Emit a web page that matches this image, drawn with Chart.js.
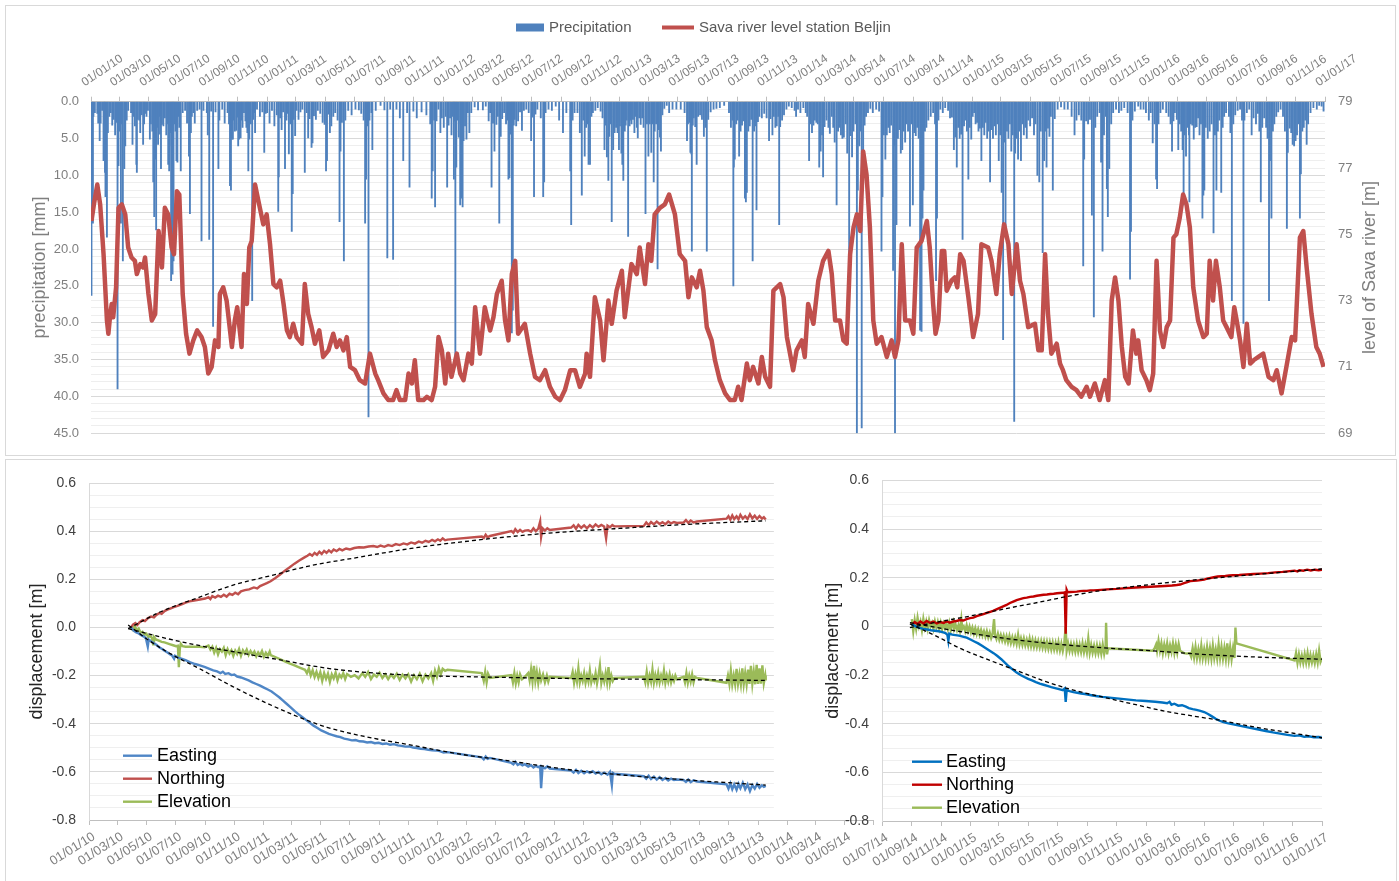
<!DOCTYPE html>
<html>
<head>
<meta charset="utf-8">
<title>Precipitation, Sava river level and displacement</title>
<script src="https://cdn.jsdelivr.net/npm/chart.js@4.4.1/dist/chart.umd.min.js"></script>
<style>
  html, body { margin: 0; padding: 0; background: #fff; }
  body { width: 1399px; height: 881px; position: relative; overflow: hidden; }
  .frame { position: absolute; border: 1px solid #d9d9d9; box-sizing: border-box; }
  canvas { position: absolute; }
</style>
</head>
<body>
<div class="frame" style="left:5px;top:5px;width:1391px;height:451px"></div>
<div class="frame" style="left:5px;top:459px;width:1392px;height:430px"></div>
<canvas id="rainChart" width="1388" height="448" style="left:6px;top:6px"></canvas>
<canvas id="dispA" width="880" height="421" style="left:6px;top:459px"></canvas>
<canvas id="dispB" width="590" height="421" style="left:800px;top:459px"></canvas>
<script>
// days are counted from 01/01/2010

// daily precipitation [mm], [day, mm]
const rain2010 = [[1,26.3],[2,3],[4,16.5],[5,2],[8,1.5],[13,1.6],[15,2.9],[18,5.3],[20,2.9],[23,1.2],[26,8.0],[27,3],[29,9.6],[30,12.9],[33,18.4],[35,4.2],[38,2],[41,1.5],[44,3.2],[47,2.4],[50,4.5],[52,2.8],[55,39.0],[57,8.7],[59,4.0],[62,16.5],[64,3],[66,21.6],[69,9.1],[71,6.0],[74,2.5],[77,1.2],[83,1.5],[86,5.8],[88,2],[91,3.3],[94,8.5],[95,9.6],[97,2.4],[100,2.5],[102,4.2],[105,1.8],[108,5.8],[110,3],[112,1.6],[115,2],[118,1.2],[122,5.1],[124,3],[127,4],[129,10.9],[131,15.6],[133,7.8],[135,17.4],[137,3.5],[139,5.8],[141,2],[143,4.4],[145,9.1],[147,3.1],[150,3.3],[153,2.2],[156,4.5],[158,3],[160,8.5],[162,9.4],[164,4.2],[166,24.3],[167,6],[169,23.4],[170,9.4],[171,21.6],[173,3],[175,4],[177,8.0],[179,8.2],[181,2],[183,3.5],[186,9.4],[190,1.5],[195,1.2],[199,2.9],[203,7.4],[205,15.2],[207,4.2],[209,2.0],[212,1.5],[215,2.9],[220,1.2],[225,1.0],[229,18.9],[233,1.2],[240,1.5],[242,4.5],[245,18.7],[249,1.3],[253,30.5],[258,1.4],[264,9.1],[266,2.5],[272,1.0],[277,2.9],[283,1.5],[286,3.0],[288,11.4],[290,12.0],[292,5.1],[294,5.1],[296,2.5],[298,4],[301,3.9],[303,2.1],[305,6.0],[307,5.1],[310,4.9],[312,2.5],[314,3.5],[317,1.5],[320,2.6],[322,3.5],[324,4.2],[326,9.4],[328,5.1],[331,3],[334,27.0],[336,2.4],[338,1.5],[340,4.2],[344,1.0],[350,2.0],[355,1.4],[359,6.9],[362,1.6]];
const rain2011 = [[365,1.5],[370,2.9],[375,1.2],[380,3.3],[385,1.8],[388,14.9],[389,10.2],[392,2.2],[395,3.8],[398,1.4],[402,9.1],[405,2.5],[408,1.6],[410,7.1],[413,3.0],[416,17.6],[418,12.5],[420,2.4],[423,4.6],[426,1.2],[430,2.4],[434,1.4],[438,1.0],[443,9.6],[447,1.5],[450,4.9],[453,2.3],[457,6.2],[459,5.6],[462,1.9],[466,2.4],[470,1.2],[475,1.6],[480,2.8],[484,3.1],[487,9.4],[489,8.0],[492,1.7],[495,4.2],[498,3.3],[502,2.0],[506,1.5],[511,2.5],[515,16.3],[517,6.7],[520,2.8],[524,21.6],[527,2.5],[533,1.2],[540,1.8],[548,1.0],[555,1.1],[560,1.6],[565,2.5],[568,16.5],[570,10.5],[573,3.3],[575,42.8],[577,2.5],[581,1.5],[583,6.5],[590,1.2],[600,0.5],[608,1.1],[614,21.2],[620,1.0],[626,21.4],[633,1.0],[640,2.2],[647,8.0],[655,1.5],[660,11.6],[668,1.3],[675,2.2],[685,1.4],[695,1.8],[703,3.0],[706,13.1],[708,9.4],[711,2.5],[713,14.3],[716,2.6],[720,1.0],[724,4.2],[727,2.2]];
const rain2012 = [[731,3.5],[735,2.0],[738,11.6],[741,3.2],[744,2.2],[747,4.5],[750,2.0],[752,10.5],[753,2.6],[755,35.0],[757,8.9],[759,2.5],[762,4.8],[765,14.0],[766,3.0],[768,13.1],[770,14.3],[772,5.3],[775,3.3],[778,5.1],[781,1.5],[784,4.2],[788,1.5],[795,0.7],[802,1.1],[812,1.1],[818,0.6],[824,2.6],[827,1.5],[830,11.6],[833,2.9],[836,6.7],[840,3.1],[843,2.0],[846,16.5],[849,4.7],[852,2.3],[856,1.5],[860,3.0],[863,2.5],[865,10.5],[867,10.3],[870,4.4],[872,31.4],[874,28.3],[876,3.2],[878,2.4],[881,3.3],[885,2.6],[889,1.4],[893,3.9],[897,1.2],[902,1.0],[907,1.5],[912,5.3],[915,2.1],[918,12.9],[921,1.7],[925,1.0],[932,2.2],[937,12.9],[939,10.9],[942,1.5],[948,1.0],[955,1.2],[963,0.6],[970,2.5],[978,4.2],[985,1.5],[993,9.4],[995,16.7],[998,2.5],[1002,1.5],[1008,1.5],[1013,4.2],[1017,12.7],[1020,2.5],[1023,7.4],[1026,3.5],[1028,3.0],[1031,8.5],[1034,8.5],[1037,2.0],[1040,1.5],[1045,1.2],[1050,0.8],[1056,1.3],[1060,2.2],[1064,6.5],[1066,3.2],[1069,7.5],[1072,10.7],[1074,4.7],[1077,3.0],[1079,16.3],[1082,6.5],[1085,4.2],[1088,3.5],[1091,4.2],[1094,6.5]];
const rain2013 = [[1096,3.3],[1099,7.0],[1101,8.5],[1103,10.7],[1106,4.0],[1108,3.2],[1110,2.5],[1113,18.3],[1116,3.3],[1118,2.5],[1120,3.0],[1123,2.4],[1126,4.2],[1128,2.0],[1131,3.5],[1133,4.9],[1136,2.2],[1139,3.1],[1142,2.2],[1145,3.5],[1149,15.2],[1152,3.0],[1155,7.4],[1158,3.0],[1161,6.9],[1163,3.0],[1166,10.9],[1168,4.0],[1171,3.0],[1174,22.7],[1176,3.8],[1179,4.8],[1181,6.7],[1184,1.8],[1188,0.9],[1193,0.5],[1198,1.5],[1205,1.0],[1213,1.0],[1222,1.0],[1230,1.5],[1235,5.3],[1237,3.0],[1240,2.8],[1242,6.9],[1244,7.1],[1245,20.3],[1247,3.2],[1249,2.2],[1252,3.4],[1255,8.5],[1258,2.0],[1262,1.8],[1266,2.4],[1270,4.7],[1273,3.5],[1276,20.3],[1279,2.4],[1284,1.4],[1290,1.0],[1296,0.9],[1303,0.8],[1312,0.5],[1322,1.5],[1326,3.5],[1329,2.5],[1331,25.0],[1332,8.9],[1334,7.8],[1337,3.0],[1340,2.5],[1343,7.4],[1346,4.0],[1349,3.2],[1352,2.6],[1355,13.1],[1357,13.6],[1359,12.3],[1362,4.0],[1365,3.3],[1368,2.4],[1371,21.6],[1374,4.0],[1376,3.3],[1379,14.7],[1382,2.7],[1385,2.0],[1390,2.2],[1395,1.6],[1400,2.2],[1405,5.3],[1408,2.3],[1412,4.5],[1415,2.0],[1418,3.5],[1421,3.3],[1424,2.0],[1426,16.7],[1428,3.4],[1432,2.5],[1436,1.8],[1441,1.0],[1446,0.6],[1452,0.8],[1458,1.2]];
const rain2014 = [[1461,2.0],[1465,1.0],[1470,1.5],[1476,0.8],[1481,1.5],[1484,2.0],[1488,8.0],[1491,3.0],[1494,4.2],[1497,3.2],[1500,2.5],[1503,2.8],[1506,3.0],[1509,8.9],[1512,6.7],[1515,4.5],[1517,10.2],[1520,3.4],[1524,2.5],[1528,3.5],[1531,4.3],[1535,2.0],[1538,3.5],[1541,5.5],[1545,14.0],[1548,4.0],[1551,3.5],[1554,4.5],[1557,5.0],[1560,4.8],[1564,3.0],[1567,7.0],[1571,20.7],[1574,4.6],[1577,7.5],[1580,4.0],[1584,3.0],[1587,45],[1589,12.0],[1592,6.0],[1595,4.0],[1597,44.3],[1600,7.1],[1603,3.2],[1606,2.0],[1610,1.5],[1615,0.9],[1620,1.5],[1627,1.0],[1633,1.3],[1638,20.3],[1640,12.9],[1643,4.5],[1646,7.8],[1649,4.5],[1652,3.5],[1655,4.2],[1658,3.2],[1662,22.9],[1664,6.0],[1666,45],[1669,16.7],[1672,5.0],[1675,3.8],[1678,7.0],[1681,6.5],[1684,4.0],[1687,5.5],[1690,3.0],[1693,4.0],[1697,16.9],[1700,3.0],[1703,14.0],[1706,4.2],[1709,4.6],[1712,3.5],[1715,5.0],[1718,31.0],[1721,31.2],[1723,15.8],[1725,12.0],[1728,4.0],[1731,3.5],[1735,2.5],[1740,2.0],[1745,1.5],[1749,3.0],[1751,24.3],[1753,15.8],[1756,2.5],[1760,1.0],[1765,1.5],[1770,0.8],[1776,1.2],[1780,2.2],[1784,2.1],[1788,6.5],[1791,4.8],[1794,8.9],[1797,3.5],[1800,5.0],[1803,4.4],[1806,18.7],[1809,3.3],[1812,2.5],[1815,4.0],[1818,10.5],[1821,3.5],[1824,5.1]];
const rain2015 = [[1827,2.0],[1830,1.5],[1833,3.0],[1836,2.8],[1839,4.0],[1842,3.6],[1845,8.0],[1848,3.5],[1851,4.5],[1854,2.8],[1857,5.0],[1860,4.0],[1863,10.9],[1866,3.8],[1869,5.0],[1872,3.3],[1875,4.5],[1878,3.0],[1881,8.0],[1884,4.5],[1887,12.3],[1890,32.3],[1892,5.5],[1895,17.4],[1898,4.0],[1901,5.0],[1904,3.0],[1907,6.7],[1910,4.5],[1913,43.4],[1915,7.0],[1918,5.0],[1921,7.8],[1924,4.0],[1927,8.0],[1930,3.0],[1933,4.5],[1936,3.5],[1939,5.0],[1942,2.5],[1946,3.3],[1950,2.2],[1954,4.5],[1957,3.0],[1961,10.0],[1965,10.9],[1968,4.0],[1972,20.5],[1975,8.0],[1978,4.0],[1980,8.9],[1983,3.6],[1986,4.7],[1989,2.0],[1993,12.0],[1997,2.3],[2003,1.0],[2010,0.7],[2017,1.0],[2024,1.0],[2032,2.0],[2038,4.5],[2042,2.5],[2047,1.8],[2052,2.5],[2056,22.3],[2058,7.8],[2062,2.6],[2066,3.0],[2070,2.4],[2074,15.4],[2078,29.2],[2081,3.5],[2085,2.0],[2090,1.5],[2093,8.2],[2096,20.3],[2099,4.5],[2103,2.0],[2105,11.8],[2107,15.6],[2110,9.1],[2114,3.0],[2118,1.5],[2124,1.0],[2130,1.5],[2135,1.2],[2141,0.8],[2148,1.5],[2153,24.1],[2155,17.6],[2158,2.5],[2163,1.3],[2170,0.6],[2175,1.0],[2181,1.0],[2186,1.5]];
const rain2016 = [[2192,2.5],[2196,1.5],[2200,5.6],[2204,3.0],[2207,10.5],[2209,11.8],[2212,3.0],[2216,1.5],[2221,1.0],[2228,1.5],[2233,2.0],[2237,3.0],[2240,6.7],[2243,2.6],[2246,1.5],[2250,2.4],[2253,6.5],[2256,3.0],[2259,4.0],[2262,6.5],[2264,14.0],[2266,4.5],[2269,7.4],[2272,3.5],[2275,4.5],[2276,13.6],[2279,3.0],[2282,3.2],[2285,5.1],[2288,3.5],[2291,3.4],[2294,2.2],[2297,4.5],[2300,3.0],[2303,15.8],[2305,12.7],[2307,12.0],[2310,3.5],[2314,5.0],[2318,4.0],[2322,3.0],[2326,17.8],[2329,4.5],[2332,12.0],[2335,4.0],[2338,2.5],[2342,12.3],[2345,3.5],[2348,2.0],[2352,1.5],[2358,2.0],[2361,4.2],[2364,27.0],[2367,3.0],[2371,1.8],[2376,1.2],[2381,1.0],[2385,2.5],[2388,30.1],[2390,2.5],[2395,1.5],[2400,1.0],[2405,4.5],[2409,2.2],[2414,3.0],[2418,1.6],[2421,4.0],[2424,13.6],[2427,3.5],[2431,2.2],[2435,3.5],[2438,5.0],[2441,27.0],[2443,8.0],[2446,15.8],[2449,4.0],[2452,3.0],[2456,2.0],[2460,1.4],[2465,1.0],[2470,2.0],[2474,4.0],[2478,17.2],[2480,6.9],[2484,3.6],[2487,4.2],[2490,5.8],[2493,6.0],[2496,5.3],[2499,4.5],[2502,3.0],[2505,15.8],[2507,9.8],[2510,4.0],[2513,3.5],[2516,2.5],[2519,5.8],[2522,3.0],[2527,1.5],[2533,0.8],[2540,1.0],[2545,0.5],[2550,0.6],[2554,1.3]];

// Sava river level at Beljin [m], [day, level]
const riverLevel = [[1,75.4],[6,75.9],[13,76.5],[19,75.9],[26,74.4],[33,72.4],[36,72.0],[40,72.6],[43,72.9],[46,72.5],[52,73.4],[57,75.8],[64,75.9],[71,75.6],[77,74.6],[84,74.3],[91,74.2],[95,73.8],[102,74.1],[108,74.0],[112,74.3],[119,73.2],[126,72.4],[133,72.6],[140,75.1],[147,74.0],[153,75.8],[160,75.6],[167,74.6],[172,74.4],[178,76.3],[183,76.2],[190,73.2],[197,72.0],[204,71.4],[212,71.8],[220,72.1],[229,71.9],[236,71.6],[243,70.8],[250,71.0],[257,71.8],[264,71.6],[267,73.2],[274,73.4],[281,73.0],[292,71.6],[298,72.4],[303,72.8],[312,71.6],[317,73.8],[323,72.9],[328,74.6],[333,74.8],[340,76.5],[347,76.0],[357,75.3],[364,75.6],[371,74.7],[378,73.5],[385,73.4],[392,73.6],[399,72.9],[406,72.1],[412,71.9],[419,72.3],[426,71.9],[437,71.7],[443,73.5],[450,72.6],[457,72.2],[464,71.7],[473,72.1],[481,71.3],[492,71.5],[502,72.0],[509,71.6],[516,71.8],[523,71.5],[530,71.9],[537,71.0],[547,70.9],[557,70.6],[568,70.5],[578,71.4],[589,70.8],[595,70.6],[606,70.2],[616,70.0],[626,70.0],[633,70.3],[640,70.0],[651,70.0],[658,70.8],[665,70.5],[671,71.2],[678,70.0],[689,70.0],[696,70.1],[706,70.0],[713,70.4],[720,71.9],[727,71.5],[734,70.5],[740,71.4],[747,70.7],[758,71.4],[765,70.8],[772,70.6],[782,71.4],[789,71.1],[796,72.8],[806,71.4],[816,72.8],[827,72.1],[834,72.5],[841,73.2],[851,73.6],[858,72.4],[865,71.8],[872,73.8],[879,74.2],[885,72.0],[899,72.3],[910,71.4],[920,70.7],[930,70.6],[941,70.9],[951,70.4],[962,70.1],[972,70.0],[982,70.3],[993,70.9],[1003,70.9],[1013,70.4],[1024,70.8],[1027,71.4],[1034,70.7],[1044,73.1],[1055,72.4],[1062,71.2],[1072,73.0],[1079,72.3],[1089,73.3],[1100,73.9],[1106,72.5],[1113,73.3],[1120,74.1],[1131,73.8],[1137,74.6],[1148,73.5],[1155,74.7],[1161,74.2],[1168,75.6],[1179,75.8],[1189,75.9],[1198,76.2],[1210,75.6],[1220,74.4],[1231,74.2],[1238,73.1],[1245,73.7],[1255,73.4],[1262,73.9],[1269,73.3],[1276,72.2],[1286,71.8],[1293,71.2],[1303,70.6],[1314,70.2],[1324,70.0],[1334,70.0],[1341,70.4],[1348,70.0],[1359,71.1],[1365,70.6],[1372,71.0],[1383,70.5],[1390,71.3],[1397,70.7],[1407,70.4],[1414,73.3],[1428,73.5],[1435,73.1],[1442,71.9],[1455,70.9],[1462,71.5],[1473,71.8],[1479,71.3],[1486,72.9],[1497,72.3],[1507,73.6],[1517,74.2],[1528,74.5],[1535,73.8],[1542,72.4],[1552,72.4],[1559,71.8],[1566,71.7],[1573,74.4],[1580,75.2],[1587,75.6],[1594,75.1],[1600,77.5],[1607,76.8],[1614,75.2],[1621,72.4],[1628,71.7],[1638,71.9],[1649,71.3],[1659,71.8],[1666,71.3],[1673,71.8],[1680,74.7],[1687,72.4],[1697,72.4],[1704,72.0],[1711,74.6],[1721,74.8],[1732,75.4],[1738,74.6],[1745,72.9],[1750,72.0],[1756,72.4],[1763,74.5],[1768,74.5],[1773,73.3],[1783,73.6],[1790,73.7],[1795,73.4],[1801,74.4],[1808,74.2],[1818,73.1],[1828,71.9],[1838,72.6],[1845,74.7],[1859,74.6],[1866,74.2],[1876,73.2],[1883,74.4],[1892,75.3],[1901,74.7],[1908,73.2],[1918,74.7],[1925,73.6],[1932,73.2],[1942,72.2],[1956,72.3],[1963,71.5],[1970,71.5],[1977,74.4],[1983,72.6],[1990,71.4],[2001,71.7],[2008,71.1],[2014,70.9],[2021,70.6],[2032,70.4],[2042,70.3],[2052,70.1],[2063,70.4],[2070,70.1],[2080,70.5],[2090,70.0],[2101,70.6],[2108,70.0],[2115,73.0],[2122,73.7],[2129,73.0],[2136,71.6],[2143,70.7],[2150,70.5],[2159,72.1],[2166,71.4],[2170,71.8],[2177,70.9],[2187,70.6],[2194,70.3],[2201,70.8],[2208,74.2],[2215,72.1],[2222,71.6],[2229,72.2],[2236,72.4],[2243,74.9],[2249,75.0],[2256,75.5],[2263,76.2],[2270,75.9],[2277,75.2],[2284,73.4],[2294,72.4],[2305,71.9],[2312,72.0],[2318,74.2],[2325,73.0],[2331,74.2],[2339,73.4],[2346,72.4],[2353,72.2],[2363,71.9],[2369,72.8],[2374,72.4],[2381,71.8],[2388,71.0],[2395,72.3],[2402,71.1],[2409,71.2],[2419,71.3],[2429,71.4],[2440,70.7],[2450,70.6],[2457,70.9],[2467,70.2],[2477,71.0],[2488,71.9],[2495,71.8],[2505,74.9],[2512,75.1],[2519,74.0],[2529,72.6],[2539,71.6],[2546,71.4],[2554,71.0]];

// GNSS displacement 2010-2013 [m], [day, value]
const northA = [[88,0.0],[92,0.012],[97,0.018],[101,0.01],[106,0.022],[112,0.03],[117,0.026],[123,0.038],[130,0.045],[136,0.042],[141,0.052],[147,0.06],[152,0.056],[158,0.068],[164,0.074],[170,0.078],[176,0.083],[182,0.087],[188,0.092],[195,0.097],[202,0.103],[210,0.108],[220,0.112],[232,0.116],[243,0.12],[250,0.126],[254,0.118],[258,0.13],[264,0.124],[270,0.132],[276,0.127],[282,0.136],[288,0.128],[294,0.14],[300,0.135],[306,0.144],[312,0.138],[318,0.15],[326,0.155],[335,0.158],[345,0.166],[352,0.162],[358,0.172],[365,0.178],[372,0.184],[380,0.192],[390,0.205],[400,0.22],[410,0.236],[420,0.25],[430,0.265],[440,0.278],[450,0.29],[457,0.298],[462,0.305],[467,0.298],[472,0.31],[477,0.302],[482,0.314],[487,0.305],[492,0.318],[497,0.31],[502,0.32],[507,0.312],[512,0.324],[518,0.317],[524,0.326],[530,0.32],[538,0.328],[546,0.324],[555,0.33],[565,0.333],[575,0.332],[585,0.336],[595,0.338],[603,0.334],[610,0.34],[618,0.335],[626,0.342],[634,0.338],[642,0.346],[650,0.342],[658,0.349],[666,0.345],[674,0.353],[682,0.348],[690,0.357],[697,0.352],[704,0.36],[711,0.355],[718,0.364],[724,0.358],[730,0.366],[735,0.36],[740,0.37],[745,0.362],[750,0.365],[822,0.378],[826,0.372],[830,0.385],[834,0.374],[839,0.38],[884,0.4],[888,0.393],[892,0.408],[897,0.396],[902,0.405],[907,0.397],[912,0.402],[919,0.404],[925,0.398],[930,0.412],[935,0.4],[940,0.41],[944,0.44],[946,0.376],[949,0.412],[954,0.402],[959,0.412],[964,0.405],[1009,0.415],[1014,0.424],[1019,0.41],[1024,0.426],[1030,0.414],[1036,0.424],[1042,0.412],[1048,0.425],[1054,0.415],[1060,0.428],[1066,0.418],[1072,0.426],[1078,0.419],[1082,0.37],[1085,0.423],[1090,0.416],[1095,0.425],[1099,0.42],[1161,0.422],[1166,0.436],[1171,0.425],[1176,0.438],[1182,0.428],[1188,0.44],[1194,0.43],[1200,0.437],[1206,0.429],[1212,0.44],[1218,0.432],[1224,0.438],[1230,0.434],[1244,0.436],[1249,0.446],[1254,0.434],[1259,0.444],[1265,0.436],[1272,0.44],[1334,0.452],[1338,0.462],[1342,0.448],[1346,0.465],[1350,0.45],[1355,0.462],[1359,0.449],[1363,0.468],[1368,0.452],[1373,0.462],[1378,0.45],[1383,0.47],[1388,0.453],[1393,0.464],[1398,0.451],[1403,0.463],[1408,0.452],[1412,0.458],[1416,0.448]];
const eastA = [[88,0.0],[93,-0.012],[98,-0.02],[104,-0.025],[110,-0.033],[115,-0.038],[119,-0.045],[123,-0.08],[125,-0.05],[130,-0.058],[136,-0.066],[141,-0.072],[147,-0.082],[153,-0.09],[159,-0.098],[165,-0.105],[170,-0.112],[174,-0.117],[178,-0.13],[180,-0.118],[186,-0.125],[193,-0.13],[202,-0.136],[212,-0.145],[222,-0.152],[232,-0.158],[243,-0.165],[252,-0.172],[260,-0.178],[268,-0.183],[275,-0.19],[280,-0.184],[285,-0.193],[292,-0.19],[298,-0.198],[304,-0.196],[310,-0.204],[318,-0.208],[326,-0.214],[334,-0.22],[342,-0.228],[350,-0.235],[358,-0.242],[366,-0.25],[374,-0.258],[382,-0.266],[390,-0.278],[398,-0.29],[406,-0.304],[414,-0.318],[422,-0.332],[430,-0.347],[438,-0.36],[446,-0.372],[454,-0.384],[462,-0.396],[470,-0.408],[478,-0.418],[486,-0.428],[494,-0.435],[502,-0.442],[510,-0.447],[518,-0.452],[526,-0.456],[534,-0.462],[542,-0.465],[550,-0.469],[558,-0.468],[566,-0.473],[574,-0.474],[582,-0.478],[590,-0.476],[598,-0.481],[606,-0.479],[614,-0.484],[622,-0.482],[630,-0.487],[638,-0.485],[646,-0.49],[654,-0.492],[662,-0.495],[670,-0.494],[678,-0.499],[686,-0.501],[694,-0.504],[702,-0.505],[710,-0.508],[718,-0.51],[726,-0.511],[734,-0.514],[742,-0.52],[750,-0.518],[822,-0.54],[826,-0.548],[830,-0.536],[834,-0.546],[839,-0.542],[884,-0.563],[888,-0.569],[892,-0.558],[897,-0.571],[902,-0.566],[907,-0.573],[912,-0.568],[919,-0.578],[925,-0.572],[930,-0.582],[935,-0.575],[940,-0.58],[944,-0.576],[946,-0.668],[949,-0.58],[954,-0.585],[959,-0.577],[964,-0.586],[1009,-0.595],[1014,-0.603],[1019,-0.592],[1024,-0.605],[1030,-0.596],[1036,-0.606],[1042,-0.598],[1048,-0.604],[1054,-0.597],[1060,-0.607],[1066,-0.6],[1072,-0.61],[1078,-0.603],[1085,-0.612],[1090,-0.6],[1094,-0.655],[1096,-0.604],[1099,-0.608],[1161,-0.618],[1166,-0.628],[1171,-0.616],[1176,-0.63],[1182,-0.62],[1188,-0.632],[1194,-0.622],[1200,-0.634],[1206,-0.626],[1212,-0.636],[1218,-0.628],[1224,-0.634],[1230,-0.632],[1244,-0.634],[1249,-0.642],[1254,-0.632],[1259,-0.643],[1265,-0.635],[1272,-0.64],[1334,-0.652],[1338,-0.67],[1342,-0.648],[1346,-0.672],[1350,-0.652],[1355,-0.675],[1359,-0.65],[1363,-0.668],[1368,-0.645],[1373,-0.672],[1378,-0.652],[1383,-0.68],[1388,-0.655],[1393,-0.67],[1398,-0.65],[1403,-0.666],[1408,-0.656],[1412,-0.662],[1416,-0.658]];
const elevA = [[88,0.0],[92,-0.01],[96,0.008],[100,-0.015],[104,-0.005],[108,-0.022],[112,-0.018],[116,-0.03],[120,-0.026],[124,-0.04],[128,-0.035],[132,-0.045],[134,-0.07],[136,-0.04],[140,-0.05],[146,-0.055],[152,-0.06],[158,-0.062],[164,-0.066],[170,-0.07],[176,-0.074],[182,-0.078],[186,-0.076],[188,-0.165],[190,-0.09],[192,-0.068],[196,-0.078],[202,-0.08],[212,-0.08],[222,-0.08],[232,-0.081],[242,-0.082],[250,-0.075],[254,-0.092],[258,-0.08],[262,-0.105],[266,-0.085],[270,-0.112],[274,-0.09],[278,-0.1],[282,-0.085],[286,-0.115],[290,-0.09],[294,-0.108],[298,-0.095],[302,-0.118],[306,-0.096],[310,-0.11],[314,-0.09],[318,-0.118],[322,-0.095],[326,-0.108],[330,-0.092],[334,-0.114],[338,-0.098],[342,-0.112],[346,-0.1],[350,-0.12],[354,-0.104],[358,-0.116],[362,-0.098],[366,-0.122],[370,-0.105],[374,-0.118],[378,-0.1],[380,-0.115],[392,-0.125],[405,-0.137],[418,-0.148],[430,-0.158],[442,-0.168],[452,-0.176],[456,-0.19],[460,-0.17],[464,-0.2],[468,-0.178],[472,-0.206],[476,-0.184],[480,-0.21],[484,-0.186],[488,-0.222],[492,-0.19],[496,-0.214],[500,-0.192],[504,-0.226],[508,-0.195],[512,-0.212],[516,-0.188],[520,-0.22],[524,-0.196],[528,-0.208],[532,-0.19],[536,-0.215],[540,-0.194],[548,-0.205],[556,-0.198],[564,-0.212],[572,-0.19],[578,-0.205],[584,-0.185],[590,-0.215],[596,-0.196],[602,-0.205],[608,-0.188],[614,-0.21],[620,-0.195],[626,-0.215],[632,-0.196],[638,-0.21],[644,-0.192],[650,-0.218],[656,-0.196],[662,-0.212],[668,-0.195],[674,-0.225],[680,-0.198],[686,-0.215],[692,-0.192],[698,-0.224],[704,-0.196],[710,-0.212],[716,-0.19],[720,-0.222],[724,-0.18],[728,-0.205],[732,-0.17],[736,-0.195],[740,-0.172],[745,-0.18],[750,-0.176],[822,-0.19],[826,-0.222],[829,-0.185],[832,-0.228],[835,-0.192],[839,-0.21],[884,-0.198],[887,-0.228],[890,-0.19],[893,-0.232],[896,-0.2],[899,-0.228],[902,-0.195],[906,-0.215],[912,-0.205],[919,-0.19],[922,-0.22],[925,-0.175],[928,-0.225],[931,-0.16],[934,-0.222],[937,-0.185],[940,-0.23],[943,-0.19],[946,-0.22],[950,-0.195],[954,-0.228],[958,-0.2],[961,-0.225],[964,-0.205],[1009,-0.21],[1012,-0.185],[1015,-0.23],[1018,-0.195],[1021,-0.225],[1024,-0.17],[1027,-0.228],[1030,-0.2],[1033,-0.222],[1036,-0.19],[1039,-0.23],[1042,-0.2],[1045,-0.225],[1048,-0.18],[1051,-0.228],[1054,-0.205],[1057,-0.222],[1060,-0.19],[1063,-0.232],[1066,-0.2],[1069,-0.158],[1072,-0.23],[1075,-0.2],[1078,-0.225],[1081,-0.19],[1084,-0.228],[1087,-0.165],[1090,-0.23],[1093,-0.2],[1096,-0.222],[1099,-0.21],[1161,-0.205],[1164,-0.228],[1167,-0.185],[1170,-0.23],[1173,-0.2],[1176,-0.225],[1179,-0.175],[1182,-0.23],[1185,-0.198],[1188,-0.226],[1191,-0.19],[1194,-0.228],[1197,-0.2],[1200,-0.222],[1203,-0.18],[1206,-0.23],[1209,-0.2],[1212,-0.225],[1215,-0.195],[1218,-0.228],[1221,-0.205],[1224,-0.222],[1227,-0.2],[1230,-0.215],[1244,-0.205],[1247,-0.228],[1250,-0.19],[1253,-0.23],[1256,-0.2],[1259,-0.225],[1262,-0.195],[1265,-0.228],[1268,-0.205],[1272,-0.21],[1334,-0.23],[1337,-0.2],[1340,-0.235],[1343,-0.18],[1346,-0.236],[1349,-0.2],[1352,-0.235],[1355,-0.172],[1358,-0.234],[1361,-0.195],[1364,-0.236],[1367,-0.17],[1370,-0.235],[1373,-0.19],[1376,-0.236],[1379,-0.175],[1382,-0.235],[1385,-0.16],[1388,-0.234],[1391,-0.185],[1394,-0.236],[1397,-0.155],[1400,-0.235],[1403,-0.17],[1406,-0.234],[1409,-0.158],[1412,-0.232],[1415,-0.2],[1416,-0.22]];
const northTrendA = [[82,-0.005],[150,0.065],[230,0.125],[300,0.175],[380,0.215],[460,0.255],[560,0.29],[680,0.33],[800,0.36],[950,0.39],[1100,0.41],[1250,0.428],[1416,0.443]];
const eastTrendA = [[82,0.01],[130,-0.06],[180,-0.12],[230,-0.17],[300,-0.245],[367,-0.31],[436,-0.37],[498,-0.415],[574,-0.452],[677,-0.49],[788,-0.53],[864,-0.55],[1001,-0.59],[1139,-0.617],[1277,-0.637],[1416,-0.655]];
const elevTrendA = [[82,-0.005],[150,-0.04],[230,-0.075],[300,-0.1],[400,-0.135],[500,-0.17],[600,-0.19],[700,-0.2],[800,-0.205],[1000,-0.212],[1200,-0.216],[1416,-0.22]];

// GNSS displacement 2014-2016 [m], [day, value]
const northB = [[1704,0.005],[1710,0.018],[1716,0.01],[1722,0.02],[1728,0.012],[1735,0.022],[1742,0.014],[1749,0.02],[1756,0.012],[1763,0.018],[1770,0.014],[1777,0.02],[1783,0.015],[1790,0.02],[1797,0.022],[1804,0.026],[1811,0.024],[1818,0.03],[1825,0.034],[1832,0.036],[1839,0.042],[1846,0.046],[1853,0.05],[1860,0.055],[1867,0.06],[1873,0.064],[1880,0.07],[1887,0.076],[1894,0.082],[1901,0.088],[1908,0.096],[1915,0.102],[1922,0.108],[1929,0.112],[1936,0.116],[1943,0.118],[1950,0.121],[1957,0.123],[1964,0.126],[1971,0.128],[1978,0.13],[1985,0.131],[1992,0.133],[1999,0.134],[2006,0.136],[2012,0.137],[2018,0.138],[2022,0.14],[2024,-0.03],[2026,0.15],[2028,0.14],[2034,0.141],[2040,0.142],[2047,0.143],[2054,0.145],[2061,0.146],[2068,0.146],[2075,0.148],[2082,0.148],[2090,0.149],[2097,0.15],[2104,0.151],[2110,0.152],[2130,0.154],[2150,0.157],[2170,0.16],[2190,0.162],[2210,0.164],[2230,0.166],[2245,0.168],[2255,0.17],[2262,0.172],[2270,0.178],[2277,0.182],[2283,0.186],[2290,0.187],[2297,0.188],[2305,0.19],[2312,0.192],[2318,0.196],[2325,0.199],[2332,0.202],[2340,0.205],[2348,0.206],[2356,0.207],[2364,0.209],[2372,0.21],[2385,0.211],[2400,0.213],[2415,0.215],[2430,0.217],[2445,0.219],[2460,0.222],[2475,0.224],[2490,0.227],[2500,0.229],[2506,0.226],[2510,0.231],[2518,0.229],[2526,0.233],[2534,0.23],[2542,0.233],[2550,0.231],[2557,0.233]];
const eastB = [[1704,0.008],[1712,0.0],[1720,-0.006],[1728,-0.01],[1736,-0.013],[1744,-0.016],[1752,-0.018],[1760,-0.02],[1768,-0.024],[1774,-0.028],[1778,-0.035],[1780,-0.06],[1782,-0.03],[1788,-0.034],[1795,-0.036],[1802,-0.038],[1810,-0.042],[1818,-0.046],[1826,-0.054],[1834,-0.062],[1842,-0.07],[1850,-0.08],[1858,-0.09],[1866,-0.1],[1874,-0.11],[1882,-0.122],[1890,-0.135],[1898,-0.15],[1906,-0.165],[1914,-0.178],[1922,-0.19],[1930,-0.2],[1938,-0.208],[1946,-0.216],[1954,-0.222],[1962,-0.229],[1970,-0.235],[1978,-0.24],[1986,-0.245],[1994,-0.25],[2002,-0.254],[2010,-0.258],[2018,-0.262],[2022,-0.255],[2024,-0.31],[2026,-0.262],[2032,-0.266],[2040,-0.27],[2048,-0.273],[2056,-0.276],[2064,-0.278],[2072,-0.281],[2080,-0.284],[2090,-0.287],[2100,-0.29],[2110,-0.292],[2130,-0.296],[2150,-0.3],[2170,-0.304],[2190,-0.307],[2210,-0.31],[2225,-0.313],[2235,-0.316],[2240,-0.31],[2244,-0.322],[2250,-0.318],[2258,-0.326],[2266,-0.324],[2274,-0.33],[2280,-0.336],[2288,-0.34],[2296,-0.343],[2304,-0.347],[2312,-0.352],[2320,-0.36],[2328,-0.37],[2336,-0.38],[2344,-0.388],[2352,-0.394],[2360,-0.398],[2370,-0.402],[2380,-0.406],[2395,-0.412],[2410,-0.418],[2425,-0.424],[2440,-0.43],[2455,-0.436],[2470,-0.441],[2485,-0.446],[2500,-0.45],[2510,-0.448],[2520,-0.454],[2530,-0.452],[2540,-0.456],[2550,-0.455],[2557,-0.458]];
const elevB = [[1704,0.03],[1707,-0.02],[1710,0.025],[1713,-0.01],[1716,0.035],[1719,0.0],[1722,0.02],[1725,-0.015],[1728,0.03],[1731,-0.005],[1734,0.02],[1737,-0.01],[1740,0.025],[1743,0.0],[1746,0.015],[1749,-0.01],[1752,0.02],[1755,-0.005],[1758,0.018],[1761,-0.01],[1764,0.015],[1767,-0.012],[1770,0.012],[1773,-0.008],[1776,0.01],[1779,-0.012],[1782,0.015],[1785,-0.015],[1788,0.01],[1790,0.02],[1792,-0.01],[1795,0.008],[1798,-0.015],[1801,0.005],[1804,-0.018],[1807,0.03],[1809,-0.01],[1812,0.0],[1815,-0.02],[1818,0.005],[1821,-0.02],[1824,0.0],[1827,-0.025],[1830,-0.005],[1833,-0.03],[1836,-0.008],[1839,-0.032],[1842,-0.012],[1845,-0.035],[1848,-0.015],[1851,-0.038],[1854,-0.02],[1857,-0.042],[1860,-0.02],[1863,-0.045],[1866,-0.025],[1869,-0.048],[1872,-0.03],[1875,0.03],[1877,-0.035],[1880,-0.052],[1883,-0.03],[1886,-0.055],[1889,-0.035],[1892,-0.058],[1895,-0.038],[1898,-0.062],[1901,-0.04],[1904,-0.065],[1907,-0.04],[1910,-0.068],[1913,-0.045],[1916,-0.07],[1919,-0.045],[1922,-0.072],[1925,-0.035],[1928,-0.074],[1931,-0.05],[1934,-0.076],[1937,-0.05],[1940,-0.078],[1943,-0.055],[1946,-0.08],[1949,-0.05],[1952,-0.082],[1955,-0.055],[1958,-0.084],[1961,-0.058],[1964,-0.085],[1967,-0.06],[1970,-0.086],[1973,-0.06],[1976,-0.088],[1979,-0.062],[1982,-0.09],[1985,-0.063],[1988,-0.092],[1991,-0.065],[1994,-0.094],[1997,-0.066],[2000,-0.095],[2003,-0.068],[2006,-0.096],[2009,-0.065],[2012,-0.098],[2015,-0.07],[2018,-0.1],[2021,-0.07],[2024,0.0],[2026,-0.1],[2029,-0.07],[2032,-0.1],[2035,-0.072],[2038,-0.102],[2041,-0.074],[2044,-0.104],[2047,-0.072],[2050,-0.104],[2053,-0.075],[2056,-0.105],[2059,-0.07],[2062,-0.106],[2065,-0.075],[2068,-0.106],[2071,-0.05],[2074,-0.108],[2077,-0.076],[2080,-0.108],[2083,-0.08],[2086,-0.11],[2089,-0.078],[2092,-0.11],[2095,-0.08],[2098,-0.112],[2101,-0.075],[2104,-0.112],[2107,-0.08],[2108,0.015],[2110,-0.115],[2112,-0.09],[2205,-0.1],[2209,-0.09],[2212,-0.075],[2214,-0.1],[2217,-0.06],[2220,-0.1],[2223,-0.07],[2226,-0.11],[2229,-0.075],[2232,-0.105],[2235,-0.07],[2238,-0.11],[2241,-0.078],[2244,-0.105],[2247,-0.07],[2250,-0.11],[2253,-0.075],[2256,-0.108],[2259,-0.072],[2262,-0.1],[2266,-0.105],[2270,-0.11],[2276,-0.112],[2282,-0.11],[2285,-0.125],[2288,-0.09],[2291,-0.128],[2294,-0.085],[2297,-0.13],[2300,-0.095],[2303,-0.13],[2306,-0.08],[2309,-0.13],[2312,-0.095],[2315,-0.132],[2318,-0.085],[2321,-0.13],[2324,-0.09],[2327,-0.132],[2330,-0.08],[2333,-0.13],[2336,-0.095],[2339,-0.132],[2342,-0.075],[2345,-0.13],[2348,-0.085],[2351,-0.132],[2354,-0.09],[2357,-0.133],[2360,-0.07],[2363,-0.132],[2366,-0.085],[2369,-0.134],[2372,-0.09],[2375,-0.13],[2377,-0.005],[2379,-0.07],[2500,-0.14],[2503,-0.11],[2506,-0.15],[2509,-0.115],[2512,-0.148],[2515,-0.12],[2518,-0.15],[2521,-0.115],[2524,-0.148],[2527,-0.11],[2530,-0.15],[2533,-0.118],[2536,-0.148],[2539,-0.12],[2542,-0.15],[2545,-0.115],[2548,-0.148],[2551,-0.1],[2554,-0.145],[2557,-0.13]];
const northTrendB = [[1700,-0.005],[1763,0.02],[1832,0.045],[1900,0.073],[1970,0.1],[2040,0.128],[2100,0.148],[2200,0.172],[2303,0.193],[2430,0.215],[2557,0.236]];
const eastTrendB = [[1700,0.01],[1760,-0.045],[1804,-0.09],[1860,-0.135],[1920,-0.18],[1980,-0.225],[2040,-0.262],[2100,-0.29],[2170,-0.322],[2234,-0.35],[2300,-0.372],[2345,-0.386],[2420,-0.415],[2490,-0.437],[2557,-0.458]];
const elevTrendB = [[1700,0.015],[1800,-0.02],[1900,-0.05],[2000,-0.072],[2100,-0.088],[2200,-0.1],[2300,-0.114],[2420,-0.126],[2557,-0.135]];

const BAR_BLUE = '#4f81bd';
const RIVER_RED = '#c0504d';
const FONT = '"Liberation Sans", Arial, sans-serif';
Chart.defaults.font.family = FONT;

const rain = [].concat(rain2010, rain2011, rain2012, rain2013, rain2014, rain2015, rain2016);
const toPoints = arr => arr.map(p => ({ x: p[0], y: p[1] }));

// tick every second month, as day numbers
function monthTicks(minDay, maxDay) {
    const start = Date.UTC(2010, 0, 1);
    const out = [];
    for (let y = 2010; y <= 2017; y++) {
        for (let m = 0; m < 12; m += 2) {
            const d = Math.round((Date.UTC(y, m, 1) - start) / 864e5);
            if (d >= minDay && d <= maxDay) out.push({ value: d });
        }
    }
    return out;
}

function dayLabel(d) {
    const dt = new Date(Date.UTC(2010, 0, 1) + d * 864e5);
    const mm = String(dt.getUTCMonth() + 1).padStart(2, '0');
    const yy = String(dt.getUTCFullYear() % 100).padStart(2, '0');
    return '01/' + mm + '/' + yy;
}

function dateAxis(min, max, o) {
    return {
        type: 'linear', position: o.position, min: min, max: max, offset: false,
        afterBuildTicks: s => { s.ticks = monthTicks(min, max); },
        afterFit: s => { s.height = o.height; },
        ticks: {
            autoSkip: false, minRotation: o.rot, maxRotation: o.rot,
            padding: o.pad, labelOffset: o.labelOffset, color: '#7f7f7f',
            font: { size: o.size },
            callback: v => (o.hide === v ? '' : dayLabel(v))
        },
        grid: { drawOnChartArea: false, tickLength: 5, color: '#bfbfbf', offset: false },
        border: { color: '#bfbfbf' }
    };
}

const isMajor = v => Math.abs(Math.round(v * 20)) % 4 === 0;

function dispAxis(width, titlePad, fmt) {
    return {
        min: -0.8, max: 0.6,
        afterFit: s => { s.width = width; },
        ticks: { stepSize: 0.05, autoSkip: false, padding: 13, color: '#404040', font: { size: 14 },
            callback: v => (isMajor(v) ? fmt(v) : '') },
        grid: { drawTicks: false, color: c => (isMajor(c.tick.value) ? '#d9d9d9' : '#efefef') },
        border: { color: '#d9d9d9' },
        title: { display: true, text: 'displacement [m]', color: '#262626', font: { size: 18 }, padding: { top: titlePad } }
    };
}

// legend drawn by hand so it can sit where the original has it
function legendBox(items, font, gap, inArea) {
    return {
        id: 'legendBox',
        afterDraw(chart) {
            const { ctx, chartArea } = chart;
            const ox = inArea ? chartArea.left : 0;
            const oy = inArea ? chartArea.bottom : 0;
            ctx.save();
            ctx.font = font;
            ctx.textBaseline = 'middle';
            items.forEach(it => {
                const x = ox + it.x, y = oy + it.y;
                if (it.box) {
                    ctx.fillStyle = it.color;
                    ctx.fillRect(x, y - 4, it.w, 8);
                } else {
                    ctx.strokeStyle = it.color;
                    ctx.lineWidth = it.lw;
                    ctx.beginPath();
                    ctx.moveTo(x, y);
                    ctx.lineTo(x + it.w, y);
                    ctx.stroke();
                }
                ctx.fillStyle = it.textColor;
                ctx.fillText(it.text, x + it.w + gap, y);
            });
            ctx.restore();
        }
    };
}

const rightTitle = {
    id: 'rightTitle',
    afterDraw(chart) {
        const { ctx, chartArea } = chart;
        ctx.save();
        ctx.translate(chartArea.right + 45, (chartArea.top + chartArea.bottom) / 2);
        ctx.rotate(-Math.PI / 2);
        ctx.font = '18px ' + FONT;
        ctx.fillStyle = '#7f7f7f';
        ctx.textAlign = 'center';
        ctx.textBaseline = 'middle';
        ctx.fillText('level of Sava river [m]', 0, 0);
        ctx.restore();
    }
};

// grid of the left panel stops before the right panel starts
function gridTrim(fromDay) {
    return {
        id: 'gridTrim',
        beforeDatasetsDraw(chart) {
            const { ctx, chartArea, scales } = chart;
            const x0 = scales.x.getPixelForValue(fromDay);
            ctx.save();
            ctx.fillStyle = '#ffffff';
            ctx.fillRect(x0, chartArea.top - 2, chartArea.right - x0 + 2, chartArea.bottom - chartArea.top + 1.5);
            ctx.restore();
        }
    };
}

// top panel: precipitation and river level
new Chart(document.getElementById('rainChart'), {
    type: 'bar',
    data: {
        datasets: [
            { type: 'line', label: 'Sava river level station Beljin', data: toPoints(riverLevel), yAxisID: 'y2',
              borderColor: RIVER_RED, borderWidth: 4.5, borderJoinStyle: 'round', pointRadius: 0, order: 0 },
            { label: 'Precipitation', data: toPoints(rain), yAxisID: 'y',
              backgroundColor: BAR_BLUE, barThickness: 1.2, order: 1 }
        ]
    },
    options: {
        responsive: false,
        animation: false,
        layout: { padding: { top: 42, bottom: 16, left: 0, right: 0 } },
        plugins: { legend: { display: false }, tooltip: { enabled: false } },
        scales: {
            x: dateAxis(0, 2557, { position: 'top', height: 53.7, rot: 34, pad: 7, labelOffset: 0, size: 12 }),
            y: {
                position: 'left', reverse: true, min: 0, max: 45,
                afterFit: s => { s.width = 85; },
                ticks: { stepSize: 1, autoSkip: false, padding: 12, color: '#7f7f7f', font: { size: 13 },
                    callback: v => (v % 5 === 0 ? v.toFixed(1) : '') },
                grid: { drawTicks: false, color: c => (c.tick.value % 5 === 0 ? '#d9d9d9' : '#eeeeee') },
                border: { display: false },
                title: { display: true, text: 'precipitation [mm]', color: '#7f7f7f', font: { size: 18 }, padding: { top: 23 } }
            },
            y2: {
                position: 'right', min: 69, max: 79,
                afterFit: s => { s.width = 69; },
                ticks: { stepSize: 2, autoSkip: false, padding: 13, color: '#7f7f7f', font: { size: 13 } },
                grid: { drawOnChartArea: false, drawTicks: false },
                border: { display: false }
            }
        }
    },
    plugins: [
        legendBox([
            { box: true, x: 510, y: 21.5, w: 28, color: BAR_BLUE, text: 'Precipitation', textColor: '#595959' },
            { box: false, x: 656, y: 21.5, w: 32, lw: 4, color: RIVER_RED, text: 'Sava river level station Beljin', textColor: '#595959' }
        ], '15px ' + FONT, 5, false),
        rightTitle
    ]
});

function dispDatasets(east, north, elev, eTrend, nTrend, hTrend, colors, width) {
    const trend = d => ({ data: toPoints(d), borderColor: '#000000', borderWidth: 1.3, borderDash: [4, 3],
        cubicInterpolationMode: 'monotone', pointRadius: 0, order: 0 });
    const series = (d, c) => ({ data: toPoints(d), borderColor: c, borderWidth: width, pointRadius: 0, order: 1 });
    return [trend(eTrend), trend(nTrend), trend(hTrend),
        series(east, colors[0]), series(north, colors[1]), series(elev, colors[2])];
}

const fmtOne = v => (Math.abs(v) < 1e-9 ? '0.0' : v.toFixed(1));

// bottom left: 2010-2013
const colorsA = ['#4f86c6', '#c0504d', '#9bbb59'];
new Chart(document.getElementById('dispA'), {
    type: 'line',
    data: { datasets: dispDatasets(eastA, northA, elevA, eastTrendA, northTrendA, elevTrendA, colorsA, 2.4) },
    options: {
        responsive: false,
        animation: false,
        layout: { padding: { top: 24, right: 3, left: 0, bottom: 0 } },
        plugins: { legend: { display: false }, tooltip: { enabled: false } },
        scales: {
            x: dateAxis(0, 1642, { position: 'bottom', height: 60, rot: 32, pad: 4, labelOffset: 5, size: 13, hide: 1642 }),
            y: dispAxis(83, 20, fmtOne)
        }
    },
    plugins: [
        gridTrim(1433),
        legendBox([
            { x: 34, y: -64.3, w: 29, lw: 2.4, color: colorsA[0], text: 'Easting', textColor: '#000000' },
            { x: 34, y: -41.3, w: 29, lw: 2.4, color: colorsA[1], text: 'Northing', textColor: '#000000' },
            { x: 34, y: -18.3, w: 29, lw: 2.4, color: colorsA[2], text: 'Elevation', textColor: '#000000' }
        ], '18px ' + FONT, 5, true)
    ]
});

// bottom right: 2014-2016
const colorsB = ['#0070c0', '#c00000', '#9bbb59'];
new Chart(document.getElementById('dispB'), {
    type: 'line',
    data: { datasets: dispDatasets(eastB, northB, elevB, eastTrendB, northTrendB, elevTrendB, colorsB, 2.4) },
    options: {
        responsive: false,
        animation: false,
        layout: { padding: { top: 19, right: 68, left: 0, bottom: 0 } },
        plugins: { legend: { display: false }, tooltip: { enabled: false } },
        scales: {
            x: dateAxis(1642, 2557, { position: 'bottom', height: 59, rot: 32, pad: 4, labelOffset: 5, size: 13 }),
            y: dispAxis(82, 22, v => (Math.abs(v) < 1e-9 ? '0' : v.toFixed(1)))
        }
    },
    plugins: [
        legendBox([
            { x: 30, y: -59.3, w: 30, lw: 2.4, color: colorsB[0], text: 'Easting', textColor: '#000000' },
            { x: 30, y: -36.3, w: 30, lw: 2.4, color: colorsB[1], text: 'Northing', textColor: '#000000' },
            { x: 30, y: -13.3, w: 30, lw: 2.4, color: colorsB[2], text: 'Elevation', textColor: '#000000' }
        ], '18px ' + FONT, 4, true)
    ]
});
</script>
</body>
</html>
